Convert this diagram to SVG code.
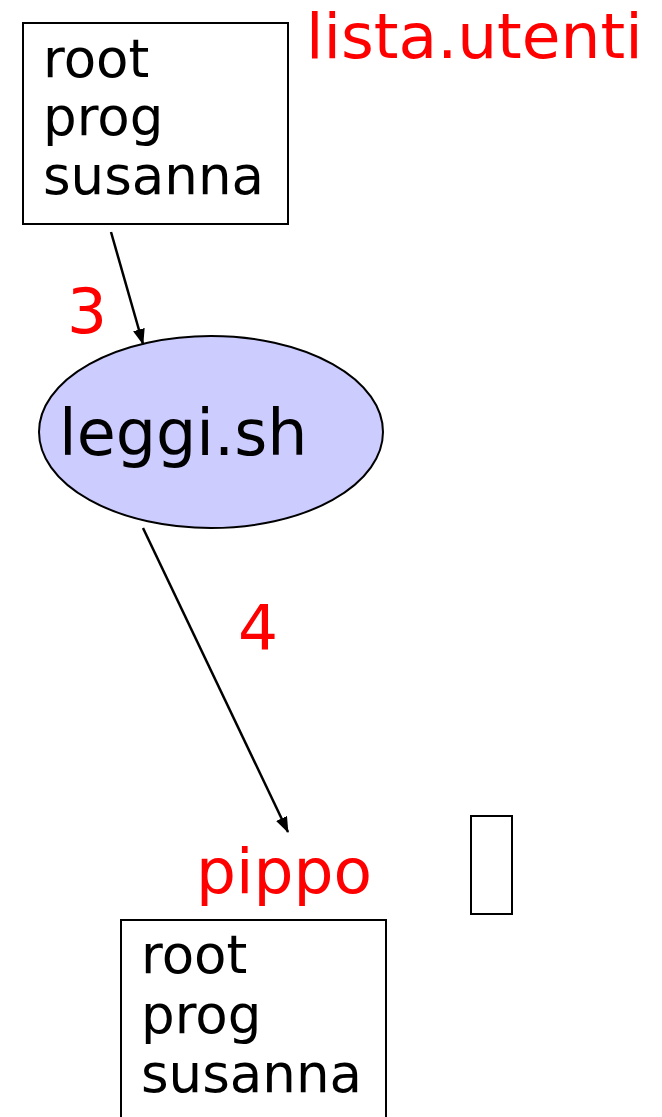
<svg xmlns="http://www.w3.org/2000/svg" width="662" height="1117" viewBox="0 0 662 1117">
<style>
.box{fill:#fff;stroke:#000;stroke-width:2}
.t{font-family:"DejaVu Sans",sans-serif;font-size:53px;fill:#000}
.r{font-family:"DejaVu Sans",sans-serif;font-size:63px;fill:#f00}
.c{stroke:#000;stroke-width:2.5;fill:none;marker-end:url(#ah)}
</style>
<defs>
<marker id="ah" viewBox="0 0 16 12" refX="15" refY="6" markerWidth="16" markerHeight="12" markerUnits="userSpaceOnUse" orient="auto">
<path d="M0,0 L16,6 L0,12 Z" fill="#000"/>
</marker>
</defs>
<rect width="662" height="1117" fill="#fff"/>
<g id="lista">
<rect class="box" x="23" y="23" width="265" height="201"/>
<text class="t" x="43" y="77">root</text>
<text class="t" x="43" y="135">prog</text>
<text class="t" x="43" y="194">susanna</text>
</g>
<g id="label-lista"><text class="r" x="306" y="58">lista.utenti</text></g>
<g id="leggi">
<ellipse cx="211" cy="432" rx="172" ry="96" fill="#ccccff" stroke="#000" stroke-width="2"/>
<text x="59" y="455" font-family="DejaVu Sans,sans-serif" font-size="63.5" fill="#000">leggi.sh</text>
</g>
<g id="pippo-label"><text class="r" x="196" y="893">pippo</text></g>
<g id="small"><rect class="box" x="471" y="816" width="41" height="98"/></g>
<g id="pippo">
<rect class="box" x="121" y="920" width="265" height="210"/>
<text class="t" x="141" y="973">root</text>
<text class="t" x="141" y="1033">prog</text>
<text class="t" x="141" y="1092">susanna</text>
</g>
<g id="connectors">
<line class="c" x1="111" y1="232" x2="143" y2="344"/>
<text class="r" x="67" y="333">3</text>
<line class="c" x1="143" y1="528" x2="288" y2="832"/>
<text class="r" x="238" y="650">4</text>
</g>
</svg>
